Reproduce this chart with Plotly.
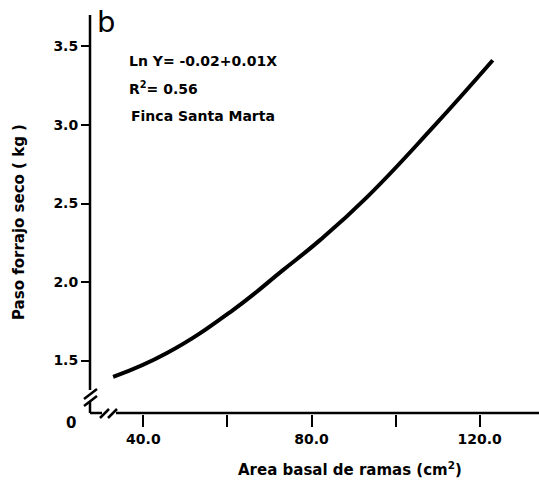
import plotly.graph_objects as go

# Fitted curve read along its length: branch basal area (cm2) vs dry forage weight (kg)
area_cm2 = [32.8, 45.6, 61.3, 73.2, 82.0, 93.2, 108.9, 123.1]
dry_weight_kg = [1.396, 1.548, 1.822, 2.076, 2.267, 2.541, 2.986, 3.412]

x_ticks = [40, 60, 80, 100, 120]
x_tick_labels = ["40.0", "", "80.0", "", "120.0"]
y_ticks = [1.5, 2.0, 2.5, 3.0, 3.5]
y_tick_labels = ["1.5", "2.0", "2.5", "3.0", "3.5"]

W, H = 539, 484
L, R, T, B = 90, 0, 15, 70
PW, PH = W - L - R, H - T - B
FONT = "DejaVu Sans"


def px(x):
    return (x - L) / PW


def py(y):
    return (H - B - y) / PH


fig = go.Figure()
fig.add_trace(go.Scatter(
    x=area_cm2, y=dry_weight_kg, mode="lines",
    line=dict(color="black", width=4, shape="spline", smoothing=1.3),
    hoverinfo="skip", showlegend=False,
))

# Axis lines with scale breaks near the origin
segments = [
    ((90, 15), (90, 390)),
    ((90, 402), (90, 413)),
    ((90, 413), (102, 413)),
    ((116, 413), (539, 413)),
    ((84, 399), (97, 389)),
    ((84, 406), (97, 396)),
    ((100, 418), (109, 409)),
    ((108, 418), (117, 409)),
]
shapes = []
for (x0, y0), (x1, y1) in segments:
    shapes.append(dict(type="line", xref="paper", yref="paper",
                       x0=px(x0), y0=py(y0), x1=px(x1), y1=py(y1),
                       line=dict(color="black", width=2.5)))


def note(text, x, y, size=14, xanchor="left", angle=0):
    return dict(text=text, x=px(x), y=py(y), xref="paper", yref="paper",
                showarrow=False, xanchor=xanchor, yanchor="middle",
                textangle=angle, font=dict(family=FONT, size=size, color="black"))


annotations = [
    note("b", 95, 22, size=29),
    note("<b>Ln Y= -0.02+0.01X</b>", 127, 61),
    note("<b>R<sup>2</sup>= 0.56</b>", 127, 88),
    note("<b>Finca Santa Marta</b>", 129, 116),
    note("<b>0</b>", 71, 423, size=15, xanchor="center"),
    note("<b>Area basal de ramas (cm<sup>2</sup>)</b>", 350, 469, size=15, xanchor="center"),
    note("<b>Paso forrajo seco ( kg )</b>", 19, 222, size=15, xanchor="center", angle=-90),
]

fig.update_layout(
    width=W, height=H,
    margin=dict(l=L, r=R, t=T, b=B),
    paper_bgcolor="white", plot_bgcolor="white",
    font=dict(family=FONT, size=13, color="black"),
    shapes=shapes, annotations=annotations,
    xaxis=dict(range=[27.3, 134.1], showgrid=False, zeroline=False, showline=False,
               tickmode="array", tickvals=x_ticks, ticktext=x_tick_labels,
               ticks="outside", ticklen=12, tickwidth=2, tickcolor="black",
               tickfont=dict(size=14, family="DejaVu Sans, sans-serif", weight="bold")),
    yaxis=dict(range=[1.16, 3.70], showgrid=False, zeroline=False, showline=False,
               tickmode="array", tickvals=y_ticks, ticktext=y_tick_labels,
               ticks="outside", ticklen=8, tickwidth=2, tickcolor="black",
               tickfont=dict(size=14, family="DejaVu Sans, sans-serif", weight="bold")),
)

fig.write_html("out.html")
